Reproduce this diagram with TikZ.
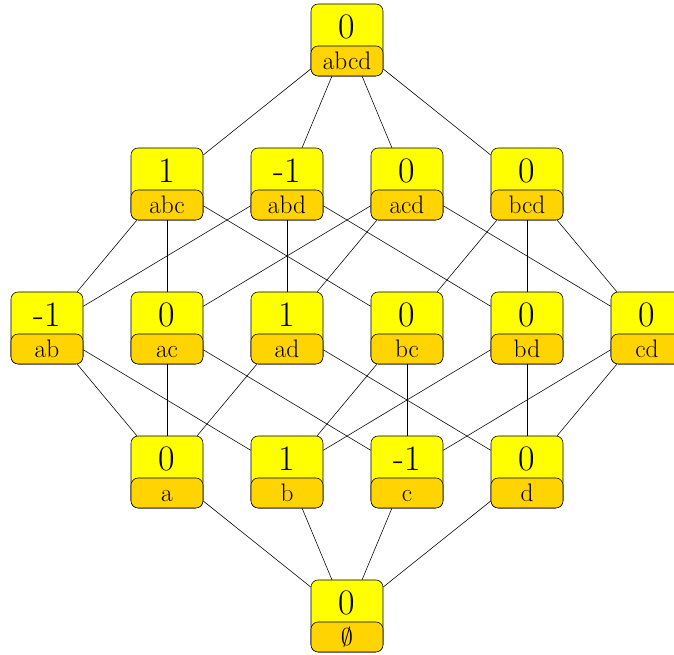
\documentclass[tikz,border=0pt]{standalone}
\usepackage{tikz}
\usetikzlibrary{positioning}
\usepackage{xcolor}
\definecolor{boxyellow}{RGB}{255, 255, 0}
\definecolor{setgold}{RGB}{255, 212, 0}
\tikzset{
    % Outer box with the value
    count box/.style={
        rectangle, rounded corners=0.18cm, draw=black, fill=boxyellow,
        minimum width=1.8cm, minimum height=1.8cm, inner sep=0pt,
        text depth=0.65cm, font=\fontsize{25.5}{28}\selectfont
    },
    % Inner box with the subset
    set box/.style={
        rectangle, rounded corners=0.18cm, draw=black, fill=setgold,
        minimum width=1.8cm, minimum height=0.75cm, inner sep=0pt,
        text height=12.5pt, text depth=0pt, anchor=south,
        font=\fontsize{18}{20}\selectfont
    },
    % Lattice edges
    cover line/.style={
        draw=black
    }
}

\begin{document}
\begin{tikzpicture}

    \useasboundingbox (-1.175, -0.975) rectangle (15.675, 15.4);

    % ======== TOP ========
    \node[count box] (abcd) at (7.5, 14.4) {0};
    \node[set box] (abcd-set) at (abcd.south) {abcd};

    % ======== THREE ELEMENTS ========
    \node[count box] (abc) at (3, 10.8) {1};
    \node[set box] (abc-set) at (abc.south) {abc};

    \node[count box] (abd) at (6, 10.8) {-1};
    \node[set box] (abd-set) at (abd.south) {abd};

    \node[count box] (acd) at (9, 10.8) {0};
    \node[set box] (acd-set) at (acd.south) {acd};

    \node[count box] (bcd) at (12, 10.8) {0};
    \node[set box] (bcd-set) at (bcd.south) {bcd};

    % ======== TWO ELEMENTS ========
    \node[count box] (ab) at (0, 7.2) {-1};
    \node[set box] (ab-set) at (ab.south) {ab};

    \node[count box] (ac) at (3, 7.2) {0};
    \node[set box] (ac-set) at (ac.south) {ac};

    \node[count box] (ad) at (6, 7.2) {1};
    \node[set box] (ad-set) at (ad.south) {ad};

    \node[count box] (bc) at (9, 7.2) {0};
    \node[set box] (bc-set) at (bc.south) {bc};

    \node[count box] (bd) at (12, 7.2) {0};
    \node[set box] (bd-set) at (bd.south) {bd};

    \node[count box] (cd) at (15, 7.2) {0};
    \node[set box] (cd-set) at (cd.south) {cd};

    % ======== ONE ELEMENT ========
    \node[count box] (a) at (3, 3.6) {0};
    \node[set box] (a-set) at (a.south) {a};

    \node[count box] (b) at (6, 3.6) {1};
    \node[set box] (b-set) at (b.south) {b};

    \node[count box] (c) at (9, 3.6) {-1};
    \node[set box] (c-set) at (c.south) {c};

    \node[count box] (d) at (12, 3.6) {0};
    \node[set box] (d-set) at (d.south) {d};

    % ======== BOTTOM ========
    \node[count box] (empty) at (7.5, 0) {0};
    \node[set box] (empty-set) at (empty.south) {$\emptyset$};

    % Edges
    \draw[cover line] (abcd) -- (abc);
    \draw[cover line] (abcd) -- (abd);
    \draw[cover line] (abcd) -- (acd);
    \draw[cover line] (abcd) -- (bcd);

    \draw[cover line] (abc) -- (ab);
    \draw[cover line] (abc) -- (ac);
    \draw[cover line] (abc) -- (bc);
    \draw[cover line] (abd) -- (ab);
    \draw[cover line] (abd) -- (ad);
    \draw[cover line] (abd) -- (bd);
    \draw[cover line] (acd) -- (ac);
    \draw[cover line] (acd) -- (ad);
    \draw[cover line] (acd) -- (cd);
    \draw[cover line] (bcd) -- (bc);
    \draw[cover line] (bcd) -- (bd);
    \draw[cover line] (bcd) -- (cd);

    \draw[cover line] (ab) -- (a);
    \draw[cover line] (ab) -- (b);
    \draw[cover line] (ac) -- (a);
    \draw[cover line] (ac) -- (c);
    \draw[cover line] (ad) -- (a);
    \draw[cover line] (ad) -- (d);
    \draw[cover line] (bc) -- (b);
    \draw[cover line] (bc) -- (c);
    \draw[cover line] (bd) -- (b);
    \draw[cover line] (bd) -- (d);
    \draw[cover line] (cd) -- (c);
    \draw[cover line] (cd) -- (d);

    \draw[cover line] (a) -- (empty);
    \draw[cover line] (b) -- (empty);
    \draw[cover line] (c) -- (empty);
    \draw[cover line] (d) -- (empty);

\end{tikzpicture}
\end{document}
